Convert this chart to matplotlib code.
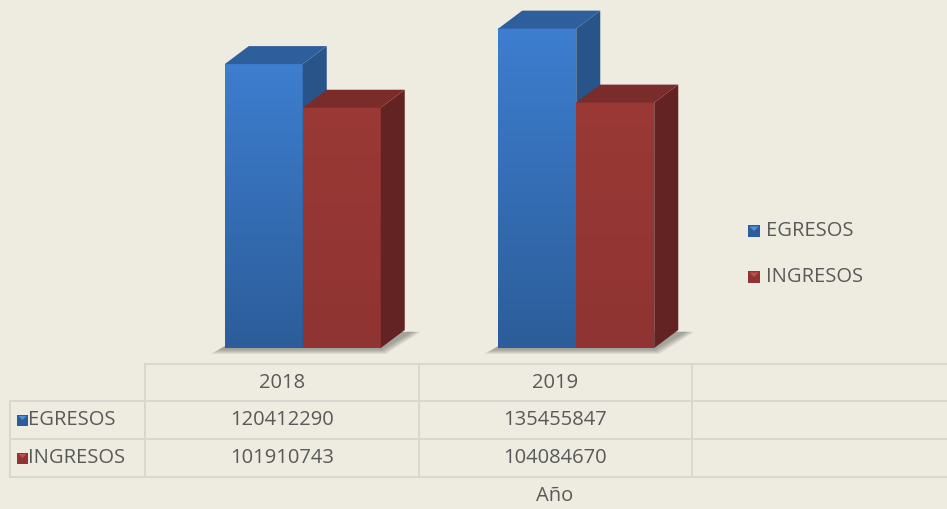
import numpy as np
import matplotlib.pyplot as plt
from matplotlib.patches import Polygon, Rectangle
from matplotlib.colors import LinearSegmentedColormap

# Data
years = ['2018', '2019']
series = ['EGRESOS', 'INGRESOS']
egresos = [120412290, 135455847]
ingresos = [101910743, 104084670]
axis_title = 'Año'

# Styles
W, H = 947, 509
bg = '#EEECE1'
grid_col = '#D9D8D0'
txt_col = '#595959'
front_cols = [('#3D7ECF', '#2C5D9A'), ('#9A3936', '#8F3432')]
side_cols = ['#29548A', '#622322']
top_cols = ['#2E5E9C', '#7A2C2A']
marker_cols = [('#2C5D9A', '#4F8FDB'), ('#8F3432', '#C0504D')]
font = 'Open Sans'
fs = 14.5

plt.rcParams['font.family'] = [font, 'DejaVu Sans']

fig = plt.figure(figsize=(W / 100, H / 100), dpi=100)
fig.patch.set_facecolor(bg)

# chart area: columns of the data table line up with the categories
ax = fig.add_axes([145 / W, 1 - 348 / H, (692 - 145) / W, 348 / H])
ax.set_xlim(-0.5, 1.5)
ax.set_ylim(0, 147.6e6)
ax.axis('off')
ax.set_facecolor('none')

# convert depth offset (pixels) into data units
p0 = ax.transData.transform((0, 0))
p1 = ax.transData.transform((1, 1e6))
sx = p1[0] - p0[0]
sy = (p1[1] - p0[1]) / 1e6
dx = 24 / sx
dy = 18 / sy

bar_w = 78 / sx
left_off = -57 / sx

z = 2
for i, yr in enumerate(years):
    vals = [egresos[i], ingresos[i]]
    x_start = i + left_off
    # soft shadow under the pair
    x_end = x_start + 2 * bar_w
    for k in range(5):
        e = (5 - k) * 2
        shadow = Polygon([(x_start - (e + 4) / sx, -(e / 2 + 1) / sy),
                          (x_end + (e / 2) / sx, -(e / 2 + 1) / sy),
                          (x_end + dx + (e + 6) / sx, dy * 0.9),
                          (x_start + dx, dy * 0.9)],
                         closed=True, facecolor='#303030', alpha=0.09, lw=0,
                         zorder=1, clip_on=False)
        ax.add_patch(shadow)
    for j, v in enumerate(vals):
        x0 = x_start + j * bar_w
        x1 = x0 + bar_w
        cmap = LinearSegmentedColormap.from_list('g', [front_cols[j][1], front_cols[j][0]])
        grad = np.linspace(0, 1, 256).reshape(-1, 1)
        ax.imshow(grad, extent=(x0, x1, 0, v), origin='lower', cmap=cmap,
                  aspect='auto', zorder=z, clip_on=False)
        side = Polygon([(x1, 0), (x1 + dx, dy), (x1 + dx, v + dy), (x1, v)],
                       closed=True, facecolor=side_cols[j], lw=0, zorder=z + 1,
                       clip_on=False)
        top = Polygon([(x0, v), (x1, v), (x1 + dx, v + dy), (x0 + dx, v + dy)],
                      closed=True, facecolor=top_cols[j], lw=0, zorder=z + 1,
                      clip_on=False)
        ax.add_patch(side)
        ax.add_patch(top)
        z += 2

ax.set_xlim(-0.5, 1.5)
ax.set_ylim(0, 147.6e6)

# overlay in pixel coordinates for table and legend
ov = fig.add_axes([0, 0, 1, 1], zorder=5)
ov.set_xlim(0, W)
ov.set_ylim(H, 0)
ov.axis('off')
ov.set_facecolor('none')

cols = [ax.transData.transform((c, 0))[0] for c in [-0.5, 0.5, 1.5]]
row_y = [364, 401, 439, 477]
lw = 1.4
ov.plot([cols[0], W], [row_y[0], row_y[0]], color=grid_col, lw=lw)
for y in row_y[1:]:
    ov.plot([10, W], [y, y], color=grid_col, lw=lw)
for x in cols:
    ov.plot([x, x], [row_y[0], row_y[-1]], color=grid_col, lw=lw)
ov.plot([10, 10], [row_y[1], row_y[-1]], color=grid_col, lw=lw)


def marker(x, y, size, cols_pair):
    ov.add_patch(Rectangle((x, y - size / 2), size, size, facecolor=cols_pair[0], lw=0))
    ov.add_patch(Polygon([(x + 1.5, y - size / 2 + 1.5), (x + size - 1.5, y - size / 2 + 1.5),
                          (x + size / 2, y)], closed=True, facecolor=cols_pair[1], lw=0))


centers = [ax.transData.transform((c, 0))[0] for c in range(len(years))]
hdr_y = (row_y[0] + row_y[1]) / 2
for c, yr in zip(centers, years):
    ov.text(c, hdr_y, yr, ha='center', va='center', color=txt_col, fontsize=fs)

table_vals = [egresos, ingresos]
for r, name in enumerate(series):
    y = (row_y[r + 1] + row_y[r + 2]) / 2
    marker(17, y, 11, marker_cols[r])
    ov.text(28, y, name, ha='left', va='center', color=txt_col, fontsize=fs)
    for c, v in zip(centers, table_vals[r]):
        ov.text(c, y, str(v), ha='center', va='center', color=txt_col, fontsize=fs)

ov.text(555, 496, axis_title, ha='center', va='center', color=txt_col, fontsize=fs)

# legend
for r, name in enumerate(series):
    y = 231 + r * 46
    marker(748, y, 12, marker_cols[r])
    ov.text(766, y, name, ha='left', va='center', color=txt_col, fontsize=fs)

fig.savefig('out.png', dpi=100, facecolor=bg)
